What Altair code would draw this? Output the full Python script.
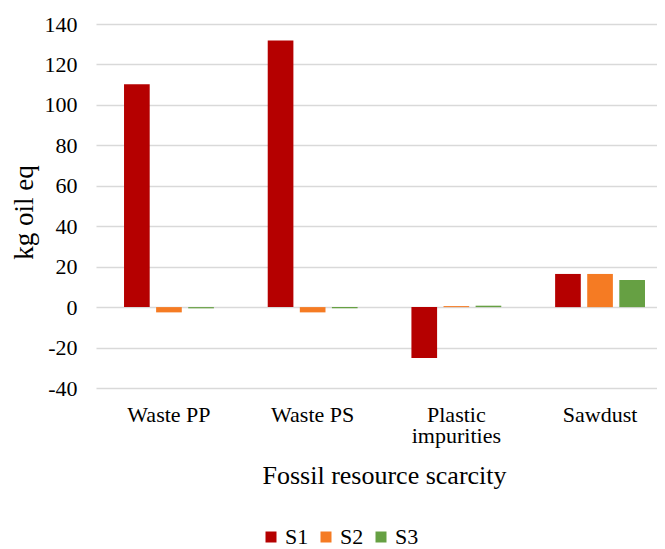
import altair as alt
import pandas as pd

categories = ["Waste PP", "Waste PS", "Plastic impurities", "Sawdust"]
series = ["S1", "S2", "S3"]
s1 = [110.2, 131.8, -25.2, 16.4]
s2 = [-2.6, -2.6, 0.5, 16.4]
s3 = [-0.6, -0.6, 0.7, 13.4]
colors = ["#b50000", "#f57b23", "#66a043"]
y_ticks = [-40, -20, 0, 20, 40, 60, 80, 100, 120, 140]

rows = []
for i, c in enumerate(categories):
    for s, vals in zip(series, [s1, s2, s3]):
        rows.append({"category": c, "series": s, "value": vals[i]})
df = pd.DataFrame(rows)

FONT = "Liberation Serif"

chart = alt.Chart(df).mark_bar().encode(
    x=alt.X(
        "category:N",
        sort=categories,
        scale=alt.Scale(paddingInner=0.33, paddingOuter=0.117, align=0.738),
        axis=alt.Axis(
            title="Fossil resource scarcity",
            labelAngle=0,
            ticks=False,
            tickSize=0,
            domain=False,
            grid=False,
            labelFontSize=22,
            labelColor="#000000",
            labelPadding=16,
            labelExpr="datum.value == 'Plastic impurities' ? ['Plastic', 'impurities'] : datum.value",
            labelLineHeight=21,
            titleFontSize=26,
            titleFontWeight="normal",
            titleColor="#000000",
            titleX=288,
            titleY=95,
            titleAlign="center",
            titleBaseline="alphabetic",
        ),
    ),
    xOffset=alt.XOffset(
        "series:N", sort=series, scale=alt.Scale(paddingInner=0.2, paddingOuter=0.1)
    ),
    y=alt.Y(
        "value:Q",
        scale=alt.Scale(domain=[-40, 140], nice=False, zero=False),
        axis=alt.Axis(
            values=y_ticks,
            title="kg oil eq",
            grid=True,
            gridColor="#d9d9d9",
            gridWidth=1.3,
            domain=False,
            ticks=False,
            tickSize=0,
            labelPadding=19,
            labelFontSize=22,
            labelColor="#000000",
            labelExpr="datum.value < 0 ? '-' + abs(datum.value) : '' + datum.value",
            titleFontSize=27,
            titleFontWeight="normal",
            titleColor="#000000",
            titleAngle=-90,
            titleX=-64,
            titleY=188,
            titleAlign="center",
            titleBaseline="alphabetic",
        ),
    ),
    color=alt.Color(
        "series:N",
        sort=series,
        scale=alt.Scale(domain=series, range=colors),
        legend=alt.Legend(
            title=None,
            orient="none",
            legendX=164,
            legendY=502,
            direction="horizontal",
            symbolType="square",
            symbolSize=121,
            symbolStrokeWidth=0,
            symbolOpacity=1,
            labelFontSize=22,
            labelColor="#000000",
            labelOffset=3,
            columnPadding=6,
        ),
    ),
).properties(
    width=561,
    height=364,
    autosize=alt.AutoSizeParams(type="none"),
    padding={"left": 88, "top": 16, "right": 0, "bottom": 161},
).configure(
    background="white", font=FONT
).configure_view(
    stroke=None
).configure_axis(
    labelFont=FONT, titleFont=FONT
).configure_legend(
    labelFont=FONT
)

chart.save("out.html", embed_options={"renderer": "svg", "actions": False})
